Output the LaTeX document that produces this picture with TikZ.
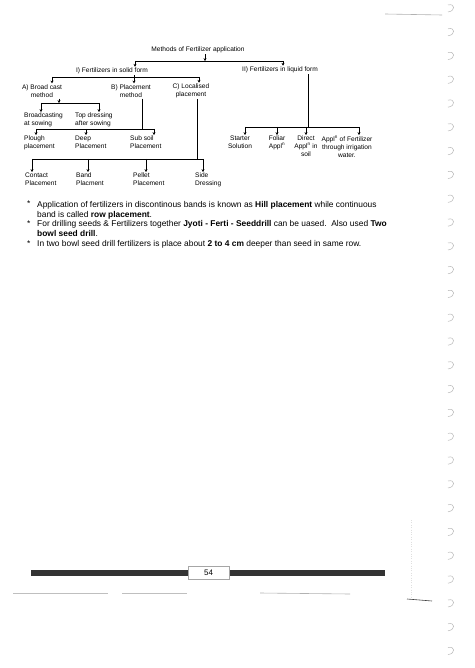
\documentclass[tikz,border=0pt]{standalone}
\usepackage{fontspec}
\setmainfont{Liberation Sans}
\usetikzlibrary{arrows.meta, positioning, calc}
\tikzset{
  lbl/.style = {
    font=\fontsize{6.6}{8}\selectfont,
    inner sep=1pt, align=center
  },
  lbll/.style = {lbl, align=left, anchor=north west},
  lblc/.style = {lbl, anchor=north},
  arr/.style  = {-{Stealth[length=2.8pt,width=3pt]}, line width=0.5pt},
  bus/.style  = {line width=0.6pt},
  note/.style = {
    font=\fontsize{8.4}{9.8}\selectfont,
    inner sep=0pt, align=left, anchor=north west
  },
  ring/.style = {gray!55, line width=0.5pt}
}

\begin{document}
\begin{tikzpicture}[x=1pt, y=-1pt]
\useasboundingbox[fill=white] (0,0) rectangle (474,668);

%% ── Top: title and the two forms ─────────────────────
\node[lbl] (title)  at (198,50) {Methods of Fertilizer application};
\node[lbl] (solid)  at (112,71) {I) Fertilizers in solid form};
\node[lbl] (liquid) at (280,70) {II) Fertilizers in liquid form};

%% ── Solid form: methods ──────────────────────────────
\node[lbl] (bcast)  at (42,91)  {A) Broad cast\\method};
\node[lbl] (placem) at (131,91) {B) Placement\\method};
\node[lbl] (localp) at (191,91) {C) Localised\\placement};

%% ── Broad cast children ──────────────────────────────
\node[lbll] (atsow) at (23,112) {Broadcasting\\at sowing};
\node[lbll] (topdr) at (74,112) {Top dressing\\after sowing};

%% ── Placement children ───────────────────────────────
\node[lbll] (plough)  at (23,135)  {Plough\\placement};
\node[lbll] (deep)    at (74,135)  {Deep\\Placement};
\node[lbll] (subsoil) at (129,135) {Sub soil\\Placement};

%% ── Localised children ───────────────────────────────
\node[lbll] (contact) at (24,172)  {Contact\\Placement};
\node[lbll] (band)    at (75,172)  {Band\\Placment};
\node[lbll] (pellet)  at (132,172) {Pellet\\Placement};
\node[lbll] (side)    at (194,172) {Side\\Dressing};

%% ── Liquid form children ─────────────────────────────
\node[lblc] (starter) at (240,135) {Starter\\Solution};
\node[lblc] (foliar)  at (277,135) {Foliar\\Appl\textsuperscript{n}};
\node[lblc] (direct)  at (306,135) {Direct\\Appl\textsuperscript{n} in\\soil};
\node[lblc] (irrig)   at (347,135) {Appl\textsuperscript{n} of Fertilizer\\through irrigation\\water.};

%% ── Bus points ───────────────────────────────────────
\coordinate (t0) at (205,61);
\coordinate (tL) at (135,61);  \coordinate (tR) at (283,61);
\coordinate (sL) at (52,77);   \coordinate (sM) at (134,77);
\coordinate (sR) at (199,77);
\coordinate (aD) at (59,103);  \coordinate (aL) at (41,103);
\coordinate (aR) at (99,103);
\coordinate (bD) at (142,129); \coordinate (bL) at (36,129);
\coordinate (bM) at (86,129);  \coordinate (bR) at (154,129);
\coordinate (cD) at (197,159); \coordinate (cL) at (32,159);
\coordinate (c2) at (88,159);  \coordinate (c3) at (146,159);
\coordinate (cR) at (203,159);
\coordinate (lD) at (308,127); \coordinate (lL) at (245,127);
\coordinate (l2) at (277,127); \coordinate (l3) at (306,127);
\coordinate (lR) at (359,127);

%% ── Connectors ───────────────────────────────────────
\draw[arr] (title.south -| t0) -- (t0);
\draw[bus] (tL) -- (tR);
\draw[arr] (tL) -- (tL |- solid.north);
\draw[arr] (tR) -- (tR |- liquid.north);

\draw[bus] (solid.south -| sM) -- (sM);
\draw[bus] (sL) -- (sR);
\draw[arr] (sL) -- (sL |- bcast.north);
\draw[arr] (sM) -- (sM |- placem.north);
\draw[arr] (sR) -- (sR |- localp.north);

\draw[arr] (bcast.south -| aD) -- (aD);
\draw[bus] (aL) -- (aR);
\draw[arr] (aL) -- (aL |- atsow.north);
\draw[arr] (aR) -- (aR |- topdr.north);

\draw[bus] (placem.south -| bD) -- (bD);
\draw[bus] (bL) -- (bR);
\draw[arr] (bL) -- (bL |- plough.north);
\draw[arr] (bM) -- (bM |- deep.north);
\draw[arr] (bR) -- (bR |- subsoil.north);

\draw[bus] (localp.south -| cD) -- (cD);
\draw[bus] (cL) -- (cR);
\draw[arr] (cL) -- (cL |- contact.north);
\draw[arr] (c2) -- (c2 |- band.north);
\draw[arr] (c3) -- (c3 |- pellet.north);
\draw[arr] (cR) -- (cR |- side.north);

\draw[bus] (liquid.south -| lD) -- (lD);
\draw[bus] (lL) -- (lR);
\draw[arr] (lL) -- (lL |- starter.north);
\draw[arr] (l2) -- (l2 |- foliar.north);
\draw[arr] (l3) -- (l3 |- direct.north);
\draw[arr] (lR) -- (lR |- irrig.north);

%% ── Notes ────────────────────────────────────────────
\node[note] (b1) at (27,201) {*};
\node[note] (n1) at (37,201)
  {Application of fertilizers in discontinous bands is known as
   \textbf{Hill placement} while continuous\\
   band is called \textbf{row placement}.};
\node[note] (b2) at (27,220.6) {*};
\node[note] (n2) at (37,220.6)
  {For drilling seeds \& Fertilizers together
   \textbf{Jyoti - Ferti - Seeddrill} can be uased.\ \ Also used \textbf{Two}\\
   \textbf{bowl seed drill}.};
\node[note] (b3) at (27,240.2) {*};
\node[note] (n3) at (37,240.2)
  {In two bowl seed drill fertilizers is place about
   \textbf{2 to 4 cm} deeper than seed in same row.};

%% ── Footer ───────────────────────────────────────────
\fill[black!80] (31,570) rectangle (385,576);
\node[draw=gray!70, fill=white, minimum width=41pt, minimum height=13pt,
      inner sep=0pt, font=\fontsize{8}{9}\selectfont]
  (pgno) at (208.5,572.5) {54};
\draw[gray!50, line width=0.6pt] (13,593) -- (108,593);
\draw[gray!50, line width=0.6pt] (122,593) -- (187,593);
\draw[gray!60, line width=0.6pt] (260,593) -- (350,594);
\draw[black!75, line width=0.6pt] (407,599) -- (432,601);
\draw[gray!25, dotted] (411,520) -- (411,599);
\draw[gray!60, line width=0.6pt] (385,14) -- (442,15);

%% ── Binding rings ────────────────────────────────────
\foreach \k in {0,...,27}{
  \pgfmathsetmacro\ry{8+23.8*\k}
  \draw[ring] (448,\ry-3) .. controls (455,\ry-5) and (456,\ry+3) .. (448,\ry+4);
}

\end{tikzpicture}
\end{document}
